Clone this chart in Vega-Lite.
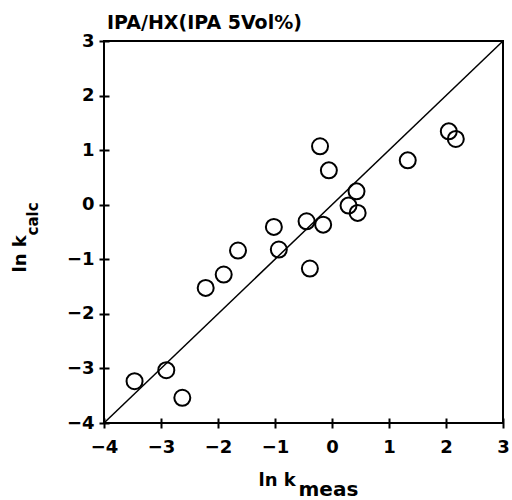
{
  "$schema": "https://vega.github.io/schema/vega-lite/v6.json",
  "width": 399,
  "height": 382,
  "autosize": "none",
  "padding": {"left": 104, "top": 41, "right": 9, "bottom": 77},
  "background": "white",
  "config": {
    "view": {"stroke": "black", "strokeWidth": 2},
    "font": "DejaVu Sans"
  },
  "title": {
    "text": "IPA/HX(IPA 5Vol%)",
    "anchor": "start",
    "frame": "group",
    "baseline": "alphabetic",
    "offset": 11,
    "dx": 3,
    "dy": 27,
    "fontSize": 19,
    "fontWeight": "bold",
    "font": "DejaVu Sans",
    "color": "black"
  },
  "datasets": {
    "diagonal": [
      {"meas": -4, "calc": -4},
      {"meas": 3, "calc": 3}
    ],
    "points": [
      {"meas": -0.21, "calc": 1.07},
      {"meas": -0.055, "calc": 0.63},
      {"meas": 0.43, "calc": 0.245},
      {"meas": 0.29, "calc": -0.016},
      {"meas": 0.45, "calc": -0.15},
      {"meas": -1.02, "calc": -0.407},
      {"meas": -0.446, "calc": -0.304},
      {"meas": -0.155, "calc": -0.365},
      {"meas": -0.933, "calc": -0.822},
      {"meas": -0.388, "calc": -1.17},
      {"meas": -1.649, "calc": -0.84},
      {"meas": -1.9, "calc": -1.28},
      {"meas": -2.216, "calc": -1.524},
      {"meas": 1.329, "calc": 0.813},
      {"meas": 2.049, "calc": 1.344},
      {"meas": 2.172, "calc": 1.205},
      {"meas": -3.464, "calc": -3.234},
      {"meas": -2.907, "calc": -3.033},
      {"meas": -2.626, "calc": -3.538}
    ]
  },
  "layer": [
    {
      "data": {"name": "diagonal"},
      "mark": {"type": "line", "color": "black", "strokeWidth": 1.5},
      "encoding": {
        "x": {
          "field": "meas", "type": "quantitative",
          "scale": {"domain": [-4, 3], "nice": false, "zero": false},
          "axis": {
            "orient": "bottom",
            "values": [-4, -3, -2, -1, 0, 1, 2, 3],
            "domain": false,
            "grid": false,
            "offset": -5,
            "tickSize": 10,
            "tickWidth": 2,
            "tickColor": "black",
            "labelPadding": 10,
            "labelFont": "DejaVu Sans",
            "labelFontSize": 18,
            "labelFontWeight": "bold",
            "labelColor": "black",
            "labelFlush": false,
            "title": "ln k",
            "titleFont": "DejaVu Sans",
            "titleFontSize": 18,
            "titleFontWeight": "bold",
            "titleColor": "black",
            "titleAlign": "left",
            "titleAnchor": null,
            "titleBaseline": "alphabetic",
            "titleX": 154,
            "titleY": 67
          }
        },
        "y": {
          "field": "calc", "type": "quantitative",
          "scale": {"domain": [-4, 3], "nice": false, "zero": false},
          "axis": {
            "orient": "left",
            "values": [-4, -3, -2, -1, 0, 1, 2, 3],
            "domain": false,
            "grid": false,
            "offset": -5,
            "tickSize": 10,
            "tickWidth": 2,
            "tickColor": "black",
            "labelPadding": 5,
            "labelFont": "DejaVu Sans",
            "labelFontSize": 18,
            "labelFontWeight": "bold",
            "labelColor": "black",
            "labelFlush": false,
            "title": "ln k",
            "titleFont": "DejaVu Sans",
            "titleFontSize": 18,
            "titleFontWeight": "bold",
            "titleColor": "black",
            "titleAngle": 270,
            "titleAlign": "left",
            "titleAnchor": null,
            "titleBaseline": "alphabetic",
            "titleX": -84,
            "titleY": 231
          }
        }
      }
    },
    {
      "data": {"name": "points"},
      "mark": {"type": "point", "shape": "circle", "filled": false, "stroke": "black", "strokeWidth": 2, "size": 256, "opacity": 1},
      "encoding": {
        "x": {
          "field": "meas", "type": "quantitative",
          "scale": {"domain": [-4, 3], "nice": false, "zero": false},
          "axis": {
            "orient": "bottom",
            "domain": false, "grid": false, "ticks": false, "labels": false,
            "offset": -5,
            "title": "meas",
            "titleFont": "DejaVu Sans",
            "titleFontSize": 20,
            "titleFontWeight": "bold",
            "titleColor": "black",
            "titleAlign": "left",
            "titleAnchor": null,
            "titleBaseline": "alphabetic",
            "titleX": 194,
            "titleY": 77
          }
        },
        "y": {
          "field": "calc", "type": "quantitative",
          "scale": {"domain": [-4, 3], "nice": false, "zero": false},
          "axis": {
            "orient": "left",
            "domain": false, "grid": false, "ticks": false, "labels": false,
            "offset": -5,
            "title": "calc",
            "titleFont": "DejaVu Sans",
            "titleFontSize": 15,
            "titleFontWeight": "bold",
            "titleColor": "black",
            "titleAngle": 270,
            "titleAlign": "left",
            "titleAnchor": null,
            "titleBaseline": "alphabetic",
            "titleX": -72,
            "titleY": 194
          }
        }
      }
    }
  ],
  "resolve": {"axis": {"x": "independent", "y": "independent"}}
}
